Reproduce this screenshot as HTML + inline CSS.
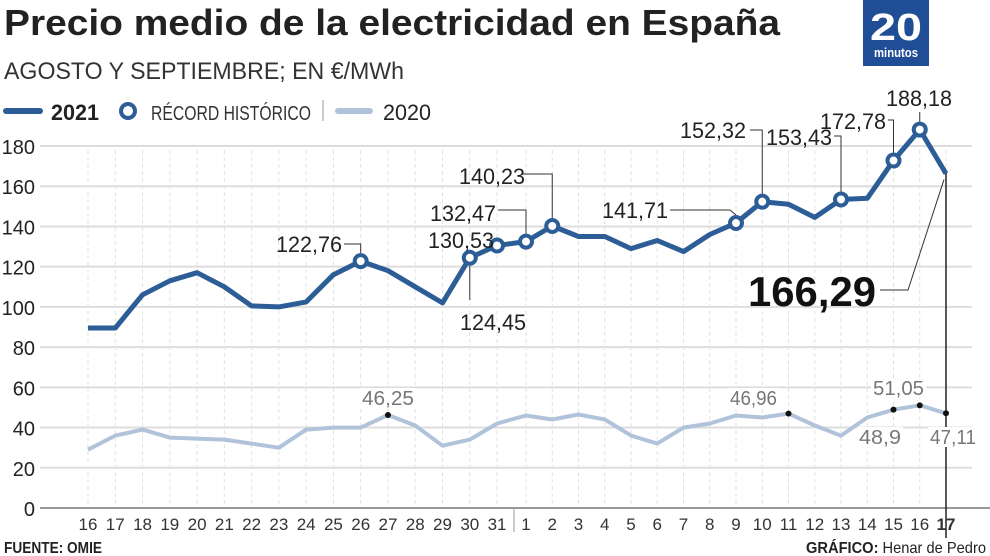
<!DOCTYPE html>
<html><head><meta charset="utf-8"><style>
html,body{margin:0;padding:0;background:#fff;width:990px;height:556px;overflow:hidden}
svg{display:block;font-family:"Liberation Sans Narrow","Liberation Sans",sans-serif}
</style></head><body>
<svg id="s" width="990" height="556" viewBox="0 0 990 556" xmlns="http://www.w3.org/2000/svg">
<text x="4" y="35" font-size="36" font-weight="bold" fill="#222" textLength="776" lengthAdjust="spacingAndGlyphs">Precio medio de la electricidad en España</text>
<text x="4" y="79" font-size="24" fill="#333" textLength="400" lengthAdjust="spacingAndGlyphs">AGOSTO Y SEPTIEMBRE; EN €/MWh</text>
<rect x="863" y="0" width="66" height="66" fill="#1f4e96"/>
<text x="896" y="40" font-size="38" font-weight="bold" fill="#fff" text-anchor="middle" textLength="52" lengthAdjust="spacingAndGlyphs">20</text>
<text x="896" y="57" font-size="13" font-weight="bold" fill="#fff" text-anchor="middle" textLength="44" lengthAdjust="spacingAndGlyphs">minutos</text>
<line x1="6" y1="111" x2="40" y2="111" stroke="#2d5d96" stroke-width="6" stroke-linecap="round"/>
<text x="51" y="120" font-size="22" font-weight="bold" fill="#222" textLength="48" lengthAdjust="spacingAndGlyphs">2021</text>
<circle cx="128" cy="111" r="7" fill="#fff" stroke="#2d5d96" stroke-width="4"/>
<text x="151" y="120" font-size="20" fill="#333" textLength="160" lengthAdjust="spacingAndGlyphs">RÉCORD HISTÓRICO</text>
<line x1="323" y1="100" x2="323" y2="121" stroke="#ccc" stroke-width="2"/>
<line x1="338" y1="111" x2="370" y2="111" stroke="#b1c3da" stroke-width="6" stroke-linecap="round"/>
<text x="383" y="120" font-size="22" fill="#222" textLength="48" lengthAdjust="spacingAndGlyphs">2020</text>
<g id="g"></g>
</svg>
<script>
const g=document.getElementById('g');let h='';
const X=i=>i<16?88+27.27*i:526+26.25*(i-16);
const Y=v=>508-v*2.011;
for(let v=20;v<=180;v+=20){h+=`<line x1="40" y1="${Y(v)}" x2="972" y2="${Y(v)}" stroke="#ddd" stroke-width="2"/><text x="35" y="${Y(v)+8}" font-size="20" fill="#222" text-anchor="end">${v}</text>`;}
h+=`<text x="35" y="516" font-size="20" fill="#222" text-anchor="end">0</text>`;
const lab=[16,17,18,19,20,21,22,23,24,25,26,27,28,29,30,31,1,2,3,4,5,6,7,8,9,10,11,12,13,14,15,16,17];
for(let i=0;i<33;i++){h+=`<line x1="${X(i)}" y1="150" x2="${X(i)}" y2="506" stroke="#e2e2e2" stroke-width="1" stroke-dasharray="4,3"/>`;
h+=`<text x="${X(i)}" y="530" font-size="17" fill="#333" text-anchor="middle" ${i==32?'font-weight="bold" fill="#111"':''}>${lab[i]}</text>`;}
h+=`<line x1="40" y1="508" x2="990" y2="508" stroke="#999" stroke-width="2"/><line x1="514" y1="508" x2="514" y2="532" stroke="#999" stroke-width="1"/>`;
h+=`<line x1="946" y1="170" x2="946" y2="538" stroke="#222" stroke-width="1.5"/>`;
const a=[89.5,89.5,106,113,117,110,100.5,100,102.5,116,122.76,118,110,102,124.45,130.53,132.47,140.23,135,135,129,133,127.5,136,141.71,152.32,151,144.5,153.43,154,172.78,188.18,166.29];
const b=[29,36,39,35,34.5,34,32,30,39,40,40,46.25,41,31,34,42,46,44,46.5,44,36,32,40,42,46,45,46.96,41,36,45,48.9,51.05,47.11];
const P=d=>d.map((v,i)=>X(i).toFixed(1)+','+Y(v).toFixed(1)).join(' ');
const u=(x,y,s,w)=>h+=`<rect x="${x-2}" y="${y-17}" width="${w+4}" height="20" fill="#fff"/><text x="${x}" y="${y}" font-size="20" fill="#777" textLength="${w}" lengthAdjust="spacingAndGlyphs">${s}</text>`;
u(362,405,'46,25',52);
u(730,405,'46,96',47);
u(873,395,'51,05',51);
u(859,444,'48,9',42);
u(930,444,'47,11',46);
h+=`<polyline points="${P(b)}" fill="none" stroke="#b1c3da" stroke-width="4" stroke-linejoin="round"/>`;
[11,26,30,31,32].forEach(i=>h+=`<circle cx="${X(i)}" cy="${Y(b[i])}" r="3" fill="#111"/>`);
const l=p=>h+=`<polyline points="${p}" fill="none" stroke="#333" stroke-width="1"/>`;
l(`${X(10)},${Y(a[10])-8} ${X(10)},244 344,244`);
l(`496,240 ${X(15)},240 ${X(15)},${Y(a[15])-6}`);
l(`498,210 ${X(16)},210 ${X(16)},${Y(a[16])-8}`);
l(`${X(14)},${Y(a[14])+8} ${X(14)},300`);
l(`523,174 ${X(17)},174 ${X(17)},${Y(a[17])-8}`);
l(`670,210 ${X(24)-6},210 ${X(24)},${Y(a[24])-8}`);
l(`750,130 ${X(25)},130 ${X(25)},${Y(a[25])-8}`);
l(`834,136 ${X(28)},136 ${X(28)},${Y(a[28])-8}`);
l(`888,120 ${X(30)},120 ${X(30)},${Y(a[30])-8}`);
l(`${X(31)},${Y(a[31])-8} ${X(31)},112`);
h+=`<polyline points="${P(a)}" fill="none" stroke="#2d5d96" stroke-width="5" stroke-linejoin="round"/>`;
[10,14,15,16,17,24,25,28,30,31].forEach(i=>h+=`<circle cx="${X(i)}" cy="${Y(a[i])}" r="6" fill="#fff" stroke="#2d5d96" stroke-width="4"/>`);
const t=(x,y,s)=>h+=`<text x="${x}" y="${y}" font-size="22" fill="#222" textLength="66" lengthAdjust="spacingAndGlyphs">${s}</text>`;
t(276,252,'122,76');
t(428,248,'130,53');
t(430,221,'132,47');
t(460,330,'124,45');
t(459,184,'140,23');
t(602,218,'141,71');
t(680,138,'152,32');
t(766,145,'153,43');
t(820,129,'172,78');
h+=`<text x="886" y="106" font-size="22" fill="#222" textLength="66" lengthAdjust="spacingAndGlyphs">188,18</text>`;
h+=`<text x="748" y="306" font-size="42" font-weight="bold" fill="#111" textLength="128" lengthAdjust="spacingAndGlyphs">166,29</text>`;
l(`880,290 908,290 ${X(32)-2},${Y(a[32])+6}`);
h+=`<text x="4" y="553" font-size="16" font-weight="bold" fill="#222" textLength="98" lengthAdjust="spacingAndGlyphs">FUENTE: OMIE</text>`;
h+=`<text x="986" y="553" font-size="16" fill="#222" text-anchor="end" textLength="180" lengthAdjust="spacingAndGlyphs"><tspan font-weight="bold">GRÁFICO:</tspan> Henar de Pedro</text>`;
g.innerHTML=h;
</script>
</body></html>
